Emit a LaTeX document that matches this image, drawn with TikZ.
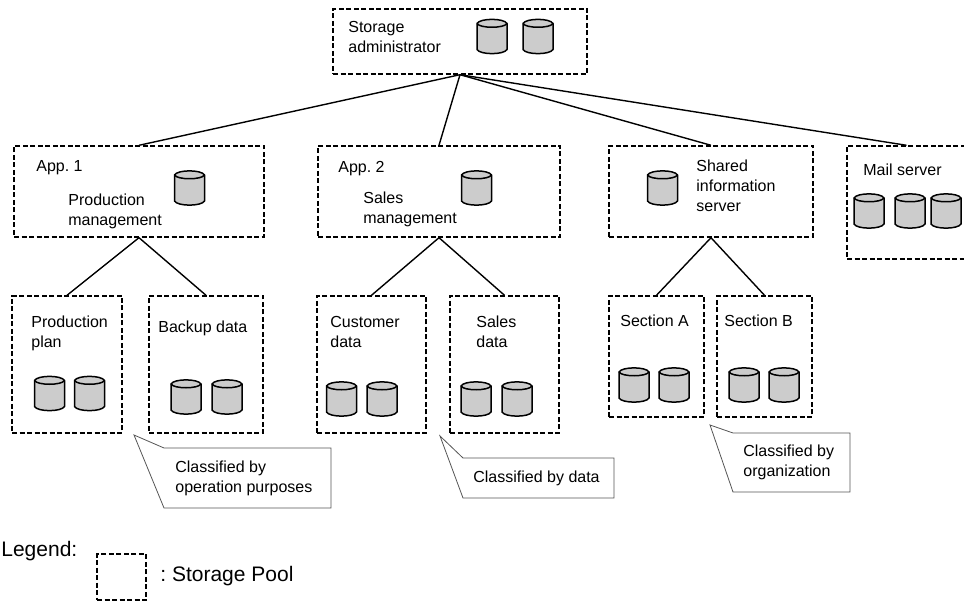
\documentclass[tikz,border=0pt]{standalone}
\usepackage{xcolor}
\usepackage{fontspec}
\setmainfont{Liberation Sans}
\usepackage{tikz}
\usetikzlibrary{positioning}
\definecolor{diskgray}{HTML}{CCCCCC}
\definecolor{notegray}{HTML}{555555}
\frenchspacing
\tikzset{every picture/.style={line width=0.75pt}}
\tikzset{pool/.style={draw, dashed, dash pattern=on 5pt off 2.5pt, line width=1.4pt, inner sep=0pt}}
\tikzset{disk/.pic={
  \draw[line width=1.5pt, fill=diskgray, line join=round] (-15,-13) -- (-15,13) .. controls (-12,18.5) and (12,18.5) .. (15,13) -- (15,-13) .. controls (12,-18.5) and (-12,-18.5) .. (-15,-13) -- cycle;
  \draw[line width=1.5pt] (-15,-13) .. controls (-12,-8) and (12,-8) .. (15,-13);
}}
\tikzset{txt/.style={anchor=west, align=left, inner sep=0pt, font=\fontsize{16}{20}\selectfont}}
\tikzset{big/.style={anchor=west, align=left, inner sep=0pt, font=\fontsize{21}{25}\selectfont}}
\tikzset{link/.style={line width=1.4pt}}
\tikzset{note/.style={draw=notegray, line width=0.8pt, line join=miter}}

\begin{document}
\begin{tikzpicture}[x=1pt,y=-1pt]
\useasboundingbox (0,0) rectangle (964,601);
\node[pool, minimum width=254pt, minimum height=65pt] (admin) at (460,41.5) {};
\node[pool, minimum width=250pt, minimum height=91pt] (app1) at (139,191.5) {};
\node[pool, minimum width=242pt, minimum height=91pt] (app2) at (439,191.5) {};
\node[pool, minimum width=204pt, minimum height=91pt] (shared) at (711,191.5) {};
\node[pool, minimum width=119pt, minimum height=113pt] (mail) at (906.5,202.5) {};
\node[pool, minimum width=110pt, minimum height=137pt] (plan) at (67,364.5) {};
\node[pool, minimum width=114pt, minimum height=137pt] (backup) at (206,364.5) {};
\node[pool, minimum width=109pt, minimum height=137pt] (customer) at (371.5,364.5) {};
\node[pool, minimum width=109pt, minimum height=137pt] (sales) at (504.5,364.5) {};
\node[pool, minimum width=95pt, minimum height=121pt] (secA) at (656.5,356.5) {};
\node[pool, minimum width=95pt, minimum height=121pt] (secB) at (764.5,356.5) {};
\node[pool, minimum width=49pt, minimum height=46pt] (legendbox) at (121.5,577) {};
\path[link] (admin.south) edge (app1.north);
\path[link] (admin.south) edge (app2.north);
\path[link] (admin.south) edge (shared.north);
\path[link] (admin.south) edge (mail.north);
\path[link] (app1.south) edge (plan.north);
\path[link] (app1.south) edge (backup.north);
\path[link] (app2.south) edge (customer.north);
\path[link] (app2.south) edge (sales.north);
\path[link] (shared.south) edge (secA.north);
\path[link] (shared.south) edge (secB.north);
\pic at (492,36.5) {disk};
\pic at (538,36.5) {disk};
\pic at (189.5,188) {disk};
\pic at (476.5,188) {disk};
\pic at (662.5,188) {disk};
\pic at (869,211) {disk};
\pic at (910,211) {disk};
\pic at (946,211) {disk};
\pic at (49.5,393.5) {disk};
\pic at (89.5,393.5) {disk};
\pic at (186,397) {disk};
\pic at (227,397) {disk};
\pic at (341.5,399) {disk};
\pic at (382,399) {disk};
\pic at (476,399) {disk};
\pic at (517,399) {disk};
\pic at (634,385) {disk};
\pic at (674,385) {disk};
\pic at (744,385) {disk};
\pic at (784,385) {disk};
\node[txt] (t1) at (348,37) {Storage\\administrator};
\node[txt] (t2) at (36,168) {App. 1};
\node[txt] (t3) at (68,211.5) {Production\\management};
\node[txt] (t4) at (338,169) {App. 2};
\node[txt] (t5) at (363,209) {Sales\\management};
\node[txt] (t6) at (696,186) {Shared\\information\\server};
\node[txt] (t7) at (863,170) {Mail server};
\node[txt] (t8) at (31,333) {Production\\plan};
\node[txt] (t9) at (158,328.5) {Backup data};
\node[txt] (t10) at (330,332) {Customer\\data};
\node[txt] (t11) at (476,332) {Sales\\data};
\node[txt] (t12) at (620,321) {Section A};
\node[txt] (t13) at (724,321) {Section B};
\draw[note] (134,435) -- (164,448) -- (331,448) -- (331,508) -- (164,508) -- cycle;
\draw[note] (440,436) -- (463,458) -- (614,458) -- (614,498) -- (463,498) -- cycle;
\draw[note] (710,425) -- (733,433) -- (850,433) -- (850,492) -- (733,492) -- cycle;
\node[txt] (t14) at (175,478) {Classified by\\operation purposes};
\node[txt] (t15) at (473,478) {Classified by data};
\node[txt] (t16) at (743,462) {Classified by\\organization};
\node[big] (t17) at (1,551) {Legend:};
\node[big] (t18) at (160,576) {: Storage Pool};
\end{tikzpicture}
\end{document}
